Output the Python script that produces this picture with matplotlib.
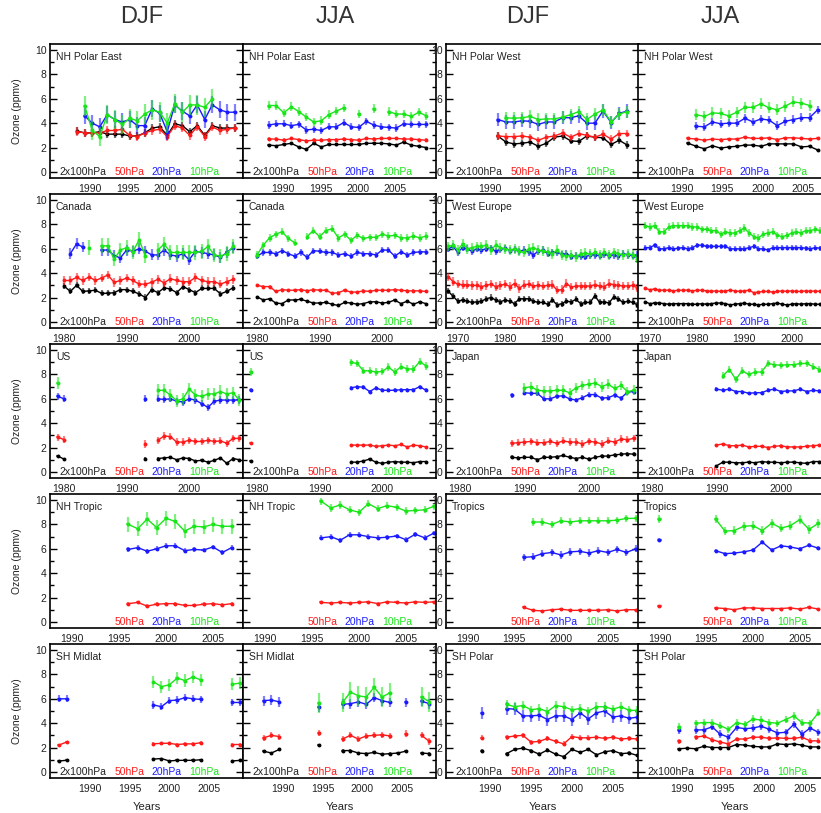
import matplotlib.pyplot as plt
import numpy as np
from matplotlib.ticker import MultipleLocator

plt.rcParams["font.family"] = ["Liberation Sans", "DejaVu Sans"]

n = np.nan

# colours for 2x100, 50, 20 and 10 hPa
colors = ["black", "#ff1a1a", "#1a1aff", "#19e619"]
levels = ["2x100hPa", "50hPa", "20hPa", "10hPa"]
seasons = ["DJF", "JJA", "DJF", "JJA"]

# ---- NH Polar East
npe_djf_x0 = 1988.3
npe_djf_100 = [3.35, 3.2, 3.2, 3.3, 3.1, 3.1, 3.1, 2.95, 2.95, 3.2, 3.6, 3.7, 3.0, 3.95, 3.8, 3.3, 3.8, 3.0, 3.8, 3.6, 3.6, 3.6]
npe_djf_50 = [3.3, 3.2, 3.2, 3.2, 3.4, 3.4, 3.5, 3.0, 2.9, 3.2, 3.4, 3.5, 2.9, 3.8, 3.6, 3.0, 3.7, 2.9, 3.7, 3.4, 3.5, 3.6]
npe_djf_20 = [n, 4.6, 4.0, 3.7, 4.7, 4.3, 4.1, 4.3, 3.8, 3.8, 5.2, 4.8, 3.3, 5.5, 5.0, 4.6, 5.5, 4.3, 5.5, 5.1, 4.9, 4.9]
npe_djf_10 = [n, 5.4, 3.4, 2.9, 4.7, 4.3, 3.9, 4.4, 4.2, 4.75, 5.1, 4.9, 4.0, 5.6, 4.9, 5.5, 5.5, 5.3, 6.0, n, n, n]
npe_djf_err = (0.3, 0.35, 0.7, 0.8)

npe_jja_x0 = 1988.1
npe_jja_100 = [2.2, 2.15, 2.25, 2.35, 2.05, 1.85, 2.35, 2.05, 2.25, 2.25, 2.25, 2.25, 2.25, 2.35, 2.35, 2.35, 2.3, 2.2, 2.45, 2.2, 2.1, 2.0]
npe_jja_50 = [2.7, 2.7, 2.6, 2.75, 2.65, 2.55, 2.6, 2.6, 2.65, 2.65, 2.7, 2.65, 2.6, 2.75, 2.7, 2.75, 2.75, 2.75, 2.7, 2.7, 2.65, 2.6]
npe_jja_20 = [3.85, 3.95, 3.95, 3.8, 3.9, 3.45, 3.5, 3.4, 3.7, 3.7, 4.05, 3.7, 3.65, 4.15, 3.85, 3.7, 3.65, 3.6, 3.95, 3.9, 3.9, 3.9]
npe_jja_10 = [5.45, 5.45, 4.85, 5.35, 4.95, 4.5, 4.1, 4.2, 4.7, 5.0, 5.25, n, 4.75, n, 5.2, n, 4.95, 4.75, 4.75, 4.55, 4.9, 4.6]
npe_jja_err = (0.05, 0.15, 0.3, 0.35)

# ---- NH Polar West
npw_djf_x0 = 1991
npw_djf_100 = [2.95, 2.45, 2.3, 2.35, 2.45, 2.1, 2.35, 2.85, 2.95, 2.55, 2.5, 2.95, 2.85, 2.8, 2.25, 2.6, 2.2]
npw_djf_50 = [2.95, 2.9, 2.9, 2.95, 2.85, 2.6, 2.85, 2.95, 3.2, 2.85, 3.15, 3.0, 2.85, 3.1, 2.7, 3.15, 3.15]
npw_djf_20 = [4.3, 4.1, 4.1, 4.2, 4.15, 3.9, 4.1, 4.1, 4.45, 4.45, 4.6, 4.0, 4.0, 5.0, 4.05, 4.8, 5.0]
npw_djf_10 = [n, 4.45, 4.4, 4.45, 4.55, 4.3, 4.35, 4.35, 4.5, 4.7, 4.95, 4.3, 4.75, 5.1, 4.1, 4.75, 4.95]
npw_djf_err = (0.3, 0.3, 0.55, 0.5)

npw_jja_x0 = 1990.8
npw_jja_100 = [2.35, 2.1, 1.9, 2.15, 1.95, 2.05, 2.1, 2.2, 2.2, 2.1, 2.3, 2.3, 2.3, 2.3, 2.05, 2.1, 1.8]
npw_jja_50 = [2.75, 2.7, 2.6, 2.7, 2.65, 2.7, 2.7, 2.85, 2.75, 2.75, 2.8, 2.65, 2.8, 2.8, 2.75, 2.7, 2.75]
npw_jja_20 = [n, 3.75, 3.7, 4.1, 3.95, 4.0, 4.0, 4.4, 4.1, 4.35, 4.25, 3.8, 4.15, 4.3, 4.45, 4.45, 5.1]
npw_jja_10 = [n, 4.7, 4.55, 4.85, 4.8, 4.6, 4.9, 5.3, 5.3, 5.6, 5.25, 5.1, 5.4, 5.75, 5.65, 5.45, n]
npw_jja_err = (0.05, 0.1, 0.35, 0.45)

# ---- Canada
can_djf_x0 = 1980
can_djf_100 = [2.95, 2.5, 3.0, 2.5, 2.55, 2.6, 2.35, 2.35, 2.4, 2.65, 2.65, 2.5, 2.3, 2.0, 2.65, 2.4, 2.8, 2.7, 2.4, 2.9, 2.65, 2.4, 2.75, 2.75, 2.75, 2.3, 2.5, 2.8]
can_djf_50 = [3.4, 3.4, 3.65, 3.4, 3.7, 3.4, 3.6, 3.85, 3.25, 3.4, 3.6, 3.4, 3.1, 3.1, 3.25, 3.5, 3.2, 3.55, 3.4, 3.3, 3.3, 3.65, 3.4, 3.3, 3.3, 3.1, 3.3, 3.5]
can_djf_20 = [n, 5.6, 6.4, 6.15, n, n, 5.9, 5.9, 5.45, 5.25, 5.9, 5.8, 6.0, 5.8, 5.5, 5.5, 5.9, 5.5, 5.4, 5.6, 5.1, 5.8, 5.7, 5.6, 5.5, 5.3, 5.7, 6.1]
can_djf_10 = [n, n, n, n, 6.1, n, 6.25, 6.25, 5.15, 5.9, 6.1, 5.75, 6.75, 5.4, n, 5.9, 6.4, 5.7, 5.7, 5.7, 5.7, 5.7, 5.8, 6.2, 5.5, 5.4, 5.6, 6.2]
can_djf_err = (0.25, 0.35, 0.45, 0.6)

can_jja_x0 = 1980
can_jja_100 = [2.05, 1.8, 1.9, 1.55, 1.5, 1.8, 1.8, 1.85, 1.7, 1.55, 1.55, 1.6, 1.45, 1.35, 1.6, 1.55, 1.45, 1.5, 1.65, 1.65, 1.55, 1.6, 1.8, 1.5, 1.7, 1.45, 1.65, 1.5]
can_jja_50 = [3.0, 2.9, 2.9, 2.5, 2.65, 2.6, 2.6, 2.65, 2.55, 2.65, 2.6, 2.6, 2.35, 2.4, 2.6, 2.45, 2.45, 2.55, 2.5, 2.6, 2.6, 2.6, 2.65, 2.6, 2.55, 2.55, 2.55, 2.5]
can_jja_20 = [5.4, 5.7, 5.7, 5.6, 5.85, 5.6, 5.4, 5.7, 5.3, 5.85, 5.8, 5.7, 5.7, 5.5, 5.6, 5.4, 5.7, 5.6, 5.6, 5.5, 5.9, 5.9, 5.4, 5.75, 5.5, 5.7, 5.75, 5.75]
can_jja_10 = [5.5, 6.3, 6.9, 7.2, 7.4, 6.85, 6.5, n, 7.0, 7.5, 7.0, 7.5, 7.65, 6.9, 7.2, 6.7, 7.1, 6.85, 6.95, 6.95, 7.2, 7.05, 7.1, 6.9, 6.9, 7.05, 6.9, 7.05]
can_jja_err = (0.08, 0.12, 0.25, 0.3)

# ---- West Europe
weu_djf_x0 = 1968
weu_djf_100 = [2.5, 2.1, 1.7, 1.8, 1.7, 1.6, 1.65, 1.7, 1.9, 2.0, 1.8, 1.65, 1.8, 1.7, 1.5, 1.9, 1.9, 1.9, 1.7, 1.6,
               1.6, 1.45, 1.8, 1.4, 1.5, 1.7, 1.65, 1.85, 1.5, 1.6, 1.6, 2.15, 1.6, 1.65, 1.55, 2.05, 1.85, 1.6, 1.7, 1.6, 1.4]
weu_djf_50 = [3.7, 3.3, 3.1, 3.05, 3.05, 3.0, 3.0, 2.9, 3.0, 3.1, 2.9, 3.0, 3.1, 2.9, 3.15, 2.75, 3.05, 3.1, 2.95, 3.0,
              2.95, 3.0, 3.05, 2.6, 2.65, 3.15, 2.85, 2.95, 2.95, 2.95, 2.95, 3.05, 2.95, 2.9, 3.15, 3.05, 3.0, 2.95, 2.95, 3.0, 2.8]
weu_djf_20 = [6.0, 6.2, 5.7, 6.1, 6.0, 5.8, 6.0, 5.9, 6.0, 6.05, 5.8, 5.95, 6.05, 5.85, 5.95, 5.8, 5.9, 5.75, 5.5, 5.8,
              5.9, 5.6, 5.7, 5.7, 5.55, 5.6, 5.35, 5.45, 5.4, 5.35, 5.5, 5.5, 5.45, 5.55, 5.45, 5.5, 5.4, 5.6, 5.5, 5.45, 5.5]
weu_djf_10 = [6.2, 6.3, 5.9, 6.4, 6.0, 6.1, 6.2, 6.2, 6.3, 5.9, 6.3, 6.1, 6.0, 5.9, 6.0, 5.8, 5.7, 6.0, 6.1, 5.9,
              5.8, 5.75, 5.6, 5.9, 5.5, 5.4, 5.5, 5.35, 5.6, 5.65, 5.55, 5.7, 5.5, 5.7, 5.5, 5.7, 5.6, 5.5, 5.6, 5.5, 5.2]
weu_djf_err = (0.25, 0.35, 0.3, 0.4)

weu_jja_x0 = 1969
weu_jja_100 = [1.65, 1.5, 1.55, 1.55, 1.5, 1.45, 1.5, 1.5, 1.5, 1.5, 1.45, 1.45, 1.5, 1.45, 1.5, 1.55, 1.55, 1.5, 1.4, 1.45,
               1.5, 1.55, 1.45, 1.45, 1.4, 1.45, 1.45, 1.5, 1.55, 1.45, 1.4, 1.45, 1.5, 1.45, 1.5, 1.5, 1.45, 1.45, 1.5, 1.5]
weu_jja_50 = [2.75, 2.65, 2.7, 2.6, 2.6, 2.6, 2.55, 2.6, 2.6, 2.6, 2.55, 2.6, 2.6, 2.55, 2.5, 2.55, 2.5, 2.55, 2.6, 2.55,
              2.5, 2.55, 2.6, 2.4, 2.45, 2.5, 2.5, 2.45, 2.5, 2.55, 2.5, 2.55, 2.5, 2.5, 2.55, 2.5, 2.55, 2.5, 2.45, 2.5]
weu_jja_20 = [6.1, 6.1, 6.3, 6.0, 6.0, 6.1, 6.0, 6.05, 6.1, 6.0, 6.1, 6.3, 6.3, 6.2, 6.2, 6.2, 6.2, 6.2, 6.0, 6.0,
              6.0, 6.0, 6.1, 6.2, 6.0, 6.0, 5.9, 6.1, 6.1, 6.1, 6.1, 6.1, 6.1, 6.1, 6.05, 6.0, 6.1, 6.05, 6.1, 6.0]
weu_jja_10 = [7.9, 7.8, 7.9, 7.4, 7.4, 7.8, 7.9, 7.9, 7.9, 7.9, 7.8, 7.8, 7.6, 7.6, 7.5, 7.5, 7.2, 7.4, 7.3, 7.3,
              7.5, 7.7, 7.3, 7.0, 6.9, 7.2, 7.3, 7.4, 7.1, 7.0, 7.1, 7.3, 7.4, 7.3, 7.5, 7.5, 7.6, 7.5, 7.4, 7.4]
weu_jja_err = (0.07, 0.08, 0.2, 0.3)

# ---- US
us_djf_x0 = 1979
us_djf_100 = [1.3, 1.05] + [n] * 12 + [1.1, n, 1.1, 1.15, 1.2, 1.0, 1.15, 1.1, 0.9, 0.95, 0.8, 0.95, 1.15, 0.7, 1.1, 1.0]
us_djf_50 = [2.85, 2.65] + [n] * 12 + [2.3, n, 2.6, 2.95, 2.9, 2.45, 2.45, 2.6, 2.5, 2.5, 2.6, 2.5, 2.55, 2.35, 2.75, 2.75]
us_djf_20 = [6.2, 6.0] + [n] * 12 + [6.0, n, 6.0, 5.95, 6.0, 5.8, 5.75, 6.0, 5.9, 5.6, 5.3, 5.8, 5.9, 5.9, 5.9, 5.9]
us_djf_10 = [7.3, n] + [n] * 12 + [n, n, 6.7, 6.7, 6.3, 5.85, 6.0, 6.8, 6.3, 6.2, 6.4, 6.4, 6.6, 6.4, 6.5, 5.9]
us_djf_err = (0.1, 0.3, 0.3, 0.5)

us_jja_x0 = 1979
us_jja_100 = [0.9] + [n] * 15 + [0.8, 0.8, 0.9, 1.05, 0.8, 0.7, 0.8, 0.85, 0.8, 0.8, 0.75, 0.85, 0.85]
us_jja_50 = [2.35] + [n] * 15 + [2.2, 2.2, 2.2, 2.2, 2.1, 2.15, 2.2, 2.15, 2.25, 2.05, 2.2, 2.15, 2.05]
us_jja_20 = [6.7] + [n] * 15 + [6.9, 7.0, 6.95, 6.6, 6.9, 6.7, 6.7, 6.7, 6.75, 6.75, 6.75, 7.0, 6.7]
us_jja_10 = [8.2] + [n] * 15 + [9.0, 8.9, 8.3, 8.3, 8.2, 8.25, 8.6, 8.2, 8.65, 8.45, 8.45, 9.05, 8.7]
us_jja_err = (0.05, 0.07, 0.15, 0.3)

# ---- Japan
jap_djf_x0 = 1988
jap_djf_100 = [1.2, 1.15, 1.2, 1.2, 1.0, 1.2, 1.2, 1.25, 1.35, 1.2, 1.1, 1.2, 1.05, 1.2, 1.3, 1.3, 1.4, 1.45, 1.5, 1.45]
jap_djf_50 = [2.35, 2.4, 2.45, 2.5, 2.4, 2.4, 2.5, 2.35, 2.55, 2.45, 2.45, 2.3, 2.5, 2.45, 2.3, 2.55, 2.45, 2.7, 2.65, 2.75]
jap_djf_20 = [6.3, n, 6.5, 6.45, 6.45, 6.0, 6.0, 6.2, 6.25, 6.0, 5.9, 6.1, 6.35, 6.35, 6.05, 6.1, 6.3, 6.05, 6.55, 6.6]
jap_djf_10 = [n, n, 6.9, 7.0, 6.7, 6.65, 6.65, 6.7, 6.7, 6.5, 6.9, 7.1, 7.2, 7.3, 7.0, 7.2, 6.85, 7.1, 6.6, 6.7]
jap_djf_err = (0.15, 0.3, 0.2, 0.4)

jap_jja_x0 = 1990
jap_jja_100 = [0.5, 0.8, 0.8, 0.75, 0.75, 0.8, 0.75, 0.85, 0.8, 0.8, 0.75, 0.8, 0.8, 0.75, 0.7, 0.85, 0.85, 0.85]
jap_jja_50 = [2.2, 2.3, 2.15, 2.15, 2.2, 2.05, 2.1, 2.1, 2.0, 2.1, 2.15, 2.05, 2.05, 2.05, 2.1, 2.15, 2.2, 2.3]
jap_jja_20 = [6.8, 6.7, 6.8, 6.6, 6.6, 6.45, 6.5, 6.5, 6.7, 6.8, 6.6, 6.65, 6.65, 6.8, 6.6, 6.7, 6.65, 6.6]
jap_jja_10 = [n, 7.9, 8.4, 7.6, 8.3, 8.0, 8.2, 8.2, 8.9, 8.8, 8.75, 8.8, 8.8, 8.9, 8.9, 8.65, 8.4, 8.45]
jap_jja_err = (0.05, 0.1, 0.15, 0.3)

# ---- NH Tropic (no 100 hPa)
nht_djf_x0 = 1996
nht_djf_50 = [1.5, 1.6, 1.3, 1.45, 1.5, 1.5, 1.35, 1.35, 1.45, 1.5, 1.4, 1.5]
nht_djf_20 = [5.95, 6.1, 5.8, 6.0, 6.25, 6.25, 5.85, 5.95, 5.9, 6.15, 5.7, 6.1]
nht_djf_10 = [8.0, 7.65, 8.45, 7.75, 8.5, 8.25, 7.45, 7.85, 7.8, 8.0, 7.85, 7.85]
nht_djf_err = (0.0, 0.15, 0.2, 0.6)

nht_jja_x0 = 1996
nht_jja_50 = [1.6, 1.55, 1.6, 1.55, 1.6, 1.65, 1.5, 1.65, 1.6, 1.55, 1.65, 1.6, 1.65]
nht_jja_20 = [6.9, 7.0, 6.7, 7.15, 7.15, 7.0, 6.9, 6.95, 7.05, 6.75, 7.2, 6.9, 7.3]
nht_jja_10 = [9.9, 9.35, 9.6, 9.2, 9.0, 9.7, 9.3, 9.55, 9.4, 9.1, 9.15, 9.2, 9.5]
nht_jja_err = (0.0, 0.1, 0.2, 0.3)

# ---- Tropics (no 100 hPa)
tro_djf_x0 = 1996
tro_djf_50 = [1.2, 0.95, 0.9, 1.0, 1.05, 0.95, 0.95, 0.95, 0.95, 1.0, 0.9, 1.0, 1.0]
tro_djf_20 = [5.3, 5.35, 5.6, 5.7, 5.5, 5.75, 5.8, 5.65, 5.85, 5.7, 5.95, 5.7, 6.0]
tro_djf_10 = [n, 8.2, 8.2, 8.0, 8.3, 8.2, 8.3, 8.3, 8.3, 8.3, 8.35, 8.5, 8.5]
tro_djf_err = (0.0, 0.08, 0.3, 0.3)

tro_jja_x0 = 1990
tro_jja_50 = [1.3, n, n, n, n, n, 1.15, 1.1, 1.0, 1.15, 1.15, 1.1, 1.1, 1.1, 1.15, 1.05, 1.2, 1.05]
tro_jja_20 = [6.75, n, n, n, n, n, 5.85, 5.6, 5.65, 5.75, 5.9, 6.55, 5.9, 6.25, 6.15, 6.0, 6.3, 6.05]
tro_jja_10 = [8.45, n, n, n, n, n, 8.45, 7.45, 7.5, 7.85, 7.9, 7.5, 8.1, 7.7, 7.9, 8.4, 7.6, 8.1]
tro_jja_err = (0.0, 0.08, 0.15, 0.35)

# ---- SH Midlat
shm_djf_x0 = 1986
shm_djf_100 = [0.9, 0.95] + [n] * 10 + [1.05, 1.1, 0.9, 0.95, 0.95, 0.95, 1.0, n, n, n, 0.9, 0.95]
shm_djf_50 = [2.2, 2.45] + [n] * 10 + [2.3, 2.35, 2.35, 2.25, 2.3, 2.3, 2.4, n, n, n, 2.25, 2.25]
shm_djf_20 = [6.0, 6.0] + [n] * 10 + [5.5, 5.35, 5.85, 5.9, 6.1, 6.0, 5.95, n, n, n, 5.7, 5.7]
shm_djf_10 = [n, n] + [n] * 10 + [7.4, 7.0, 7.15, 7.7, 7.5, 7.8, 7.55, n, n, n, 7.2, 7.3]
shm_djf_err = (0.08, 0.12, 0.3, 0.5)

shm_jja_x0 = 1987.5
shm_jja_100 = [1.7, 1.55, 1.85, n, n, n, n, 2.2, n, n, 1.75, 1.75, 1.55, 1.5, 1.6, 1.45, 1.5, 1.55, 1.7, n, 1.55, 1.5]
shm_jja_50 = [2.8, 3.0, 2.9, n, n, n, n, 3.2, n, n, 2.7, 3.0, 2.7, 2.95, 3.0, 3.05, 2.95, n, 3.15, n, 3.0, 2.5]
shm_jja_20 = [5.85, 5.9, 5.75, n, n, n, n, 5.3, n, n, 5.55, 5.6, 5.75, 5.55, 6.1, 5.85, 5.7, n, 5.7, n, 5.8, 5.6]
shm_jja_10 = [n, n, n, n, n, n, n, 5.65, n, n, 5.7, 6.55, 6.25, 6.15, 6.95, 6.15, 6.5, n, n, n, 6.15, 5.75]
shm_jja_err = (0.12, 0.25, 0.4, 0.8)

# ---- SH Polar
shp_djf_x0 = 1989
shp_djf_100 = [1.75, n, n, 1.5, 1.85, 1.95, 1.75, 1.45, 1.8, 1.45, 1.25, 1.85, 1.6, 1.85, 1.4, 1.65, 1.75, 1.5, 1.55, 1.35]
shp_djf_50 = [2.8, n, n, 2.85, 2.95, 3.0, 2.45, 2.5, 2.75, 2.5, 2.3, 2.9, 2.8, 2.8, 2.85, 2.75, 2.85, 2.7, 2.75, 2.7]
shp_djf_20 = [4.85, n, n, 5.2, 5.15, 4.6, 4.6, 4.65, 4.3, 4.6, 4.6, 4.3, 4.85, 4.35, 4.85, 5.0, 4.5, 4.6, 4.4, 4.5]
shp_djf_10 = [n, n, n, 5.55, 5.35, 5.45, 5.1, 5.2, 4.95, 5.45, 5.35, 5.1, 5.2, 5.0, 5.35, 5.35, 5.15, 5.35, 5.05, 5.05]
shp_djf_err = (0.15, 0.2, 0.5, 0.35)

shp_jja_x0 = 1989.65
shp_jja_100 = [1.9, 1.95, 1.9, 2.1, 2.0, 2.0, 2.0, 2.25, 2.2, 2.1, 2.05, 2.05, 2.3, 2.25, 2.3, 2.2, 2.05, 2.05]
shp_jja_50 = [2.5, n, 2.85, 2.95, 2.65, 2.45, 2.3, 2.7, 2.7, 2.85, 2.85, 2.75, 2.8, 2.75, 2.75, 2.85, 2.55, 2.55]
shp_jja_20 = [3.45, n, 3.45, 3.45, 3.7, 3.1, 2.85, 3.65, 3.55, 3.6, 3.75, 3.5, 3.2, 3.25, 3.9, 3.1, 3.6, 3.25]
shp_jja_10 = [3.7, n, 4.0, 4.05, 4.05, 3.8, 3.5, 4.05, 3.9, 4.35, 4.25, 4.05, 4.0, 4.3, 4.6, 4.05, 4.0, 4.85]
shp_jja_err = (0.1, 0.2, 0.3, 0.3)

# x range and tick years for each row, left pair / right pair
xlims = [
    [(1984.67, 2010.4), (1984.6, 2008.45)],
    [(1977.76, 2008.6), (1967.5, 2008.35)],
    [(1977.76, 2008.6), (1977.8, 2007.8)],
    [(1987.66, 2008.2), (1987.7, 2008.35)],
    [(1984.9, 2009.33), (1984.6, 2008.2)],
]
xticks = [
    [[1990, 1995, 2000, 2005], [1990, 1995, 2000, 2005]],
    [[1980, 1990, 2000], [1970, 1980, 1990, 2000]],
    [[1980, 1990, 2000], [1980, 1990, 2000]],
    [[1990, 1995, 2000, 2005], [1990, 1995, 2000, 2005]],
    [[1990, 1995, 2000, 2005], [1990, 1995, 2000, 2005]],
]

panels = [
    (0, 0, "NH Polar East", npe_djf_x0, (npe_djf_100, npe_djf_50, npe_djf_20, npe_djf_10), npe_djf_err),
    (0, 1, "NH Polar East", npe_jja_x0, (npe_jja_100, npe_jja_50, npe_jja_20, npe_jja_10), npe_jja_err),
    (0, 2, "NH Polar West", npw_djf_x0, (npw_djf_100, npw_djf_50, npw_djf_20, npw_djf_10), npw_djf_err),
    (0, 3, "NH Polar West", npw_jja_x0, (npw_jja_100, npw_jja_50, npw_jja_20, npw_jja_10), npw_jja_err),
    (1, 0, "Canada", can_djf_x0, (can_djf_100, can_djf_50, can_djf_20, can_djf_10), can_djf_err),
    (1, 1, "Canada", can_jja_x0, (can_jja_100, can_jja_50, can_jja_20, can_jja_10), can_jja_err),
    (1, 2, "West Europe", weu_djf_x0, (weu_djf_100, weu_djf_50, weu_djf_20, weu_djf_10), weu_djf_err),
    (1, 3, "West Europe", weu_jja_x0, (weu_jja_100, weu_jja_50, weu_jja_20, weu_jja_10), weu_jja_err),
    (2, 0, "US", us_djf_x0, (us_djf_100, us_djf_50, us_djf_20, us_djf_10), us_djf_err),
    (2, 1, "US", us_jja_x0, (us_jja_100, us_jja_50, us_jja_20, us_jja_10), us_jja_err),
    (2, 2, "Japan", jap_djf_x0, (jap_djf_100, jap_djf_50, jap_djf_20, jap_djf_10), jap_djf_err),
    (2, 3, "Japan", jap_jja_x0, (jap_jja_100, jap_jja_50, jap_jja_20, jap_jja_10), jap_jja_err),
    (3, 0, "NH Tropic", nht_djf_x0, (None, nht_djf_50, nht_djf_20, nht_djf_10), nht_djf_err),
    (3, 1, "NH Tropic", nht_jja_x0, (None, nht_jja_50, nht_jja_20, nht_jja_10), nht_jja_err),
    (3, 2, "Tropics", tro_djf_x0, (None, tro_djf_50, tro_djf_20, tro_djf_10), tro_djf_err),
    (3, 3, "Tropics", tro_jja_x0, (None, tro_jja_50, tro_jja_20, tro_jja_10), tro_jja_err),
    (4, 0, "SH Midlat", shm_djf_x0, (shm_djf_100, shm_djf_50, shm_djf_20, shm_djf_10), shm_djf_err),
    (4, 1, "SH Midlat", shm_jja_x0, (shm_jja_100, shm_jja_50, shm_jja_20, shm_jja_10), shm_jja_err),
    (4, 2, "SH Polar", shp_djf_x0, (shp_djf_100, shp_djf_50, shp_djf_20, shp_djf_10), shp_djf_err),
    (4, 3, "SH Polar", shp_jja_x0, (shp_jja_100, shp_jja_50, shp_jja_20, shp_jja_10), shp_jja_err),
]

W, H = 821, 813
fig = plt.figure(figsize=(W / 100, H / 100), dpi=100)

# panel layout in pixels (the last column runs past the right edge, as in the original)
lefts = [50, 243, 446, 638]
tops = [44, 194, 344, 494, 644]
aw, ah = 193, 134
label_x = [0.17, 0.41, 0.605, 0.80]
txt = "#222222"

for row, col, title, x0, series, errs in panels:
    ax = fig.add_axes([lefts[col] / W, 1 - (tops[row] + ah) / H, aw / W, ah / H])
    pair = col // 2
    ax.set_xlim(*xlims[row][pair])
    ax.set_ylim(-0.5, 10.5)

    for vals, err, c in zip(series, errs, colors):
        if vals is None:
            continue
        y = np.array(vals, dtype=float)
        x = x0 + np.arange(len(y))
        ax.errorbar(x, y, yerr=err, xerr=0.22, fmt="none", ecolor=c,
                    alpha=0.55, elinewidth=1.6, capsize=0)
        ax.plot(x, y, "-", color=c, lw=1.0, marker="o", ms=2.8, mew=0)

    # panel name and level labels
    ax.text(0.03, 0.90, title, transform=ax.transAxes, fontsize=7.5,
            color=txt, va="center", ha="left")
    for i, (lab, c) in enumerate(zip(levels, colors)):
        if series[i] is None:
            continue
        ax.text(label_x[i], 0.045, lab, transform=ax.transAxes, fontsize=7.5,
                color=c if i else txt, ha="center", va="center")

    ax.yaxis.set_major_locator(MultipleLocator(2))
    ax.yaxis.set_minor_locator(MultipleLocator(1))
    ax.tick_params(axis="y", which="both", direction="in", left=True, right=True,
                   width=1.0, labelsize=7.5, labelcolor=txt, pad=2.5)
    ax.tick_params(axis="y", which="major", length=5)
    ax.tick_params(axis="y", which="minor", length=3)
    if col in (1, 3):
        ax.tick_params(axis="y", labelleft=False)

    ax.set_xticks(xticks[row][pair])
    ax.tick_params(axis="x", length=0, labelsize=7.5, labelcolor=txt, pad=4.5)
    for s in ax.spines.values():
        s.set_linewidth(1.2)

# column titles
for col, (s, xc) in enumerate(zip(seasons, [142, 335, 528, 720])):
    fig.text(xc / W, 1 - 17 / H, s, fontsize=17, color="#333333", ha="center", va="center")

# y labels on the far left
for row in range(5):
    fig.text(17 / W, 1 - (tops[row] + ah / 2) / H, "Ozone (ppmv)", rotation=90,
             fontsize=7.5, color=txt, ha="center", va="center")

# x labels under the bottom row
for col in range(4):
    fig.text((lefts[col] + aw / 2) / W, 1 - 807 / H, "Years", fontsize=8,
             color=txt, ha="center", va="center")

fig.savefig("out.png", dpi=100)
